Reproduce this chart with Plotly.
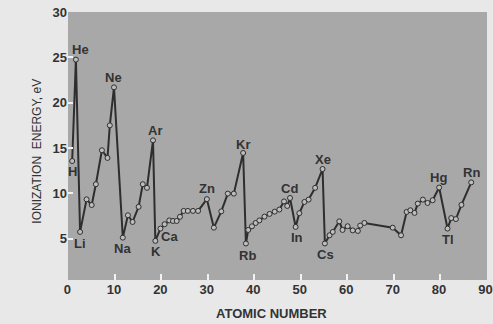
import plotly.graph_objects as go

# Atomic number positions (as drawn) and first ionization energies (eV)
atomic_number = [0.8, 1.6, 2.5, 3.9, 5.0, 5.9, 7.2, 8.4, 8.9, 9.8,
                 11.7, 12.8, 13.8, 15.1, 16.0, 16.9, 18.2,
                 18.7, 19.8, 20.7, 21.7, 22.5, 23.3, 24.0, 24.8, 25.7, 26.8, 27.9, 29.8,
                 31.3, 32.9, 34.3, 35.6, 37.6,
                 38.2, 38.7, 39.5, 40.3, 41.1, 42.2, 43.3, 44.4, 45.4, 46.4, 47.1, 47.7,
                 48.9, 49.7, 50.8, 51.7, 53.1, 54.7,
                 55.2, 56.2, 56.9, 58.3, 59.0, 60.1, 61.2, 62.3, 62.8, 63.7,
                 69.8, 71.6, 72.8, 73.6, 74.5, 75.2, 76.3, 77.3, 78.4, 79.8,
                 81.6, 82.4, 83.4, 84.6, 86.7]
ionization_ev = [13.56, 24.76, 5.73, 9.33, 8.7, 11.0, 14.75, 13.9, 17.5, 21.7,
                 5.1, 7.57, 6.83, 8.5, 11.0, 10.6, 15.85,
                 4.74, 6.1, 6.58, 7.0, 6.94, 6.94, 7.4, 8.05, 8.05, 8.05, 8.05, 9.35,
                 6.2, 8.0, 9.96, 9.96, 14.45,
                 4.45, 5.95, 6.35, 6.72, 7.0, 7.42, 7.72, 7.97, 8.2, 9.1, 8.6, 9.48,
                 6.28, 7.8, 9.04, 9.3, 10.6, 12.68,
                 4.45, 5.36, 5.73, 6.9, 5.95, 6.36, 5.9, 5.84, 6.43, 6.72,
                 6.2, 5.36, 7.94, 8.12, 7.83, 8.86, 9.3, 8.93, 9.23, 10.63,
                 6.1, 7.26, 7.15, 8.72, 11.2]

# Element labels and their label anchor positions (data coords)
label_text = ["He", "H", "Li", "Ne", "Na", "Ar", "K", "Ca", "Zn", "Kr", "Rb",
              "Cd", "In", "Xe", "Cs", "Hg", "Tl", "Rn"]
label_x = [2.65, 0.92, 2.5, 9.64, 11.66, 18.6, 18.81, 21.82, 29.83, 37.56, 38.6,
           47.6, 49.15, 54.7, 55.25, 79.6, 81.6, 86.7]
label_y = [25.86, 12.35, 4.45, 22.84, 3.93, 16.88, 3.52, 5.26, 10.52, 15.41, 3.16,
           10.52, 5.11, 13.72, 3.27, 11.74, 4.89, 12.24]

x_ticks = [0, 10, 20, 30, 40, 50, 60, 70, 80, 90]
y_ticks = [5, 10, 15, 20, 25, 30]

FONT = "Liberation Sans, Arial, Helvetica, sans-serif"
INK = "#333333"

ML, MR, MT, MB, W, H = 68, 6, 12, 44, 493, 324
PW, PH = W - ML - MR, H - MT - MB

fig = go.Figure()
fig.add_trace(go.Scatter(
    x=atomic_number, y=ionization_ev, mode="lines+markers",
    line=dict(color="#2e2e2e", width=2),
    marker=dict(size=5, color="#bdbdbd", line=dict(color="#2e2e2e", width=1)),
    hoverinfo="x+y", showlegend=False,
))

for t, lx, ly in zip(label_text, label_x, label_y):
    fig.add_annotation(x=lx, y=ly, xref="x", yref="y", text=t, showarrow=False,
                       xanchor="center", yanchor="middle",
                       font=dict(family=FONT, size=13, color=INK, weight=700))

fig.add_annotation(x=(271.7 - ML) / PW, y=(H - MB - 313) / PH, xref="paper", yref="paper",
                   text="ATOMIC NUMBER", showarrow=False, xanchor="center", yanchor="middle",
                   font=dict(family=FONT, size=13, color=INK, weight=700))
fig.add_annotation(x=(37.0 - ML) / PW, y=(H - MB - 151.7) / PH, xref="paper", yref="paper",
                   text="IONIZATION  ENERGY, eV", textangle=-90, showarrow=False,
                   xanchor="center", yanchor="middle",
                   font=dict(family=FONT, size=12, color=INK))

fig.update_layout(
    width=W, height=H,
    margin=dict(l=ML, r=MR, t=MT, b=MB, autoexpand=False),
    paper_bgcolor="#e8e8e8",
    plot_bgcolor="#a8a8a8",
    font=dict(family=FONT, color=INK),
    xaxis=dict(range=[-0.1, 90.1], tickvals=x_ticks, ticks="inside", ticklen=6,
               tickwidth=2, tickcolor="#f2f2f2", showgrid=False, zeroline=False,
               showline=False, ticklabeloverflow="allow", ticklabelshift=-1,
               tickfont=dict(size=13, color=INK, weight=700)),
    yaxis=dict(range=[0.42, 30.02], tickvals=y_ticks, ticks="inside", ticklen=5,
               tickwidth=2, tickcolor="#f2f2f2", showgrid=False, zeroline=False,
               showline=False, ticklabeloverflow="allow",
               tickfont=dict(size=13, color=INK, weight=700)),
)

fig.write_html("out.html", config={"displayModeBar": False},
               post_script="document.body.style.margin='0';")
